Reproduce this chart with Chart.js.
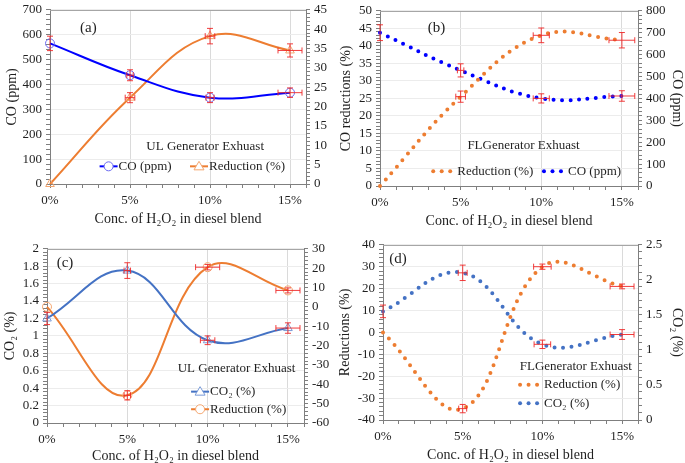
<!DOCTYPE html>
<html>
<head>
<meta charset="utf-8">
<script src="https://cdn.jsdelivr.net/npm/chart.js@4.4.1/dist/chart.umd.min.js"></script>
<style>
  html, body { margin: 0; padding: 0; background: #fff; width: 685px; height: 463px; overflow: hidden; }
  canvas { position: absolute; }
</style>
</head>
<body>
<canvas id="pa" width="340" height="230" style="left:0px;top:-2px"></canvas>
<canvas id="pb" width="347" height="231" style="left:338px;top:-1px"></canvas>
<canvas id="pc" width="340" height="228" style="left:0px;top:237px"></canvas>
<canvas id="pd" width="348" height="231" style="left:337px;top:233px"></canvas>
<script>
// H2O2 concentration in the blend (%)
const conc = [0, 5, 10, 15];
const concLabels = ['0%', '5%', '10%', '15%'];

// (a) UL generator - CO
const coUL = [565, 437, 347, 367];
const coUL_yErr = [29, 22, 20, 19];
const coUL_xErr = [0, 0.2, 0.25, 0.75];
const coRedUL = [0, 22.3, 38.2, 34.5];
const coRedUL_yErr = [0, 1.3, 2, 1.7];
const coRedUL_xErr = [0, 0.3, 0.3, 0.75];

// (b) FL generator - CO
const coFL = [700, 528, 400, 411];
const coFL_yErr = [36, 30, 21, 24];
const coFL_xErr = [0, 0.2, 0.5, 0.8];
const coRedFL = [0, 25.5, 43, 41.6];
const coRedFL_yErr = [0, 1.6, 2.1, 2.2];
const coRedFL_xErr = [0, 0.3, 0.5, 0.8];

// (c) UL generator - CO2
const co2UL = [1.2, 1.75, 0.95, 1.09];
const co2UL_yErr = [0.07, 0.09, 0.05, 0.06];
const co2UL_xErr = [0, 0.2, 0.45, 0.75];
const co2RedUL = [0, -45.7, 20.5, 8.5];
const co2RedUL_yErr = [0, 2.4, 1.4, 1.3];
const co2RedUL_xErr = [0, 0.2, 0.75, 0.75];

// (d) FL generator - CO2
const co2FL = [1.55, 2.1, 1.08, 1.22];
const co2FL_yErr = [0.09, 0.11, 0.06, 0.07];
const co2FL_xErr = [0, 0.28, 0.52, 0.75];
const co2RedFL = [0, -34.8, 30, 21];
const co2RedFL_yErr = [0, 1.9, 1.2, 1.1];
const co2RedFL_xErr = [0, 0.25, 0.55, 0.75];

const FONT = '"Liberation Serif", "DejaVu Serif", serif';
const TXT = '#1f1f1f';
const AXIS = '#7f7f7f';
const BLUE = '#0000FF';
const STEEL = '#4472C4';
const ORANGE = '#ED7D31';
const ERR = 'rgba(238, 40, 40, 0.9)';
const xTitle = 'Conc. of H\u2082O\u2082 in diesel blend';

const near = (v, step) => Math.abs(v / step - Math.round(v / step)) < 1e-6;
const pts = arr => conc.map((c, i) => ({ x: c, y: arr[i] }));

function xAxis(h) {
  return {
    type: 'linear', min: 0, max: 16,
    afterFit: s => { s.height = h; },
    ticks: {
      stepSize: 1, autoSkip: false, maxRotation: 0, padding: 5, color: TXT,
      font: { family: FONT, size: 13 },
      callback: v => { const i = conc.indexOf(v); return i >= 0 ? concLabels[i] : ''; }
    },
    grid: {
      color: c => (c.tick && c.tick.value > 0 && c.tick.value < 16 && near(c.tick.value, 5)) ? '#dadada' : 'rgba(0,0,0,0)',
      tickColor: AXIS, tickLength: 4
    },
    border: { color: AXIS },
    title: { display: true, text: xTitle, color: TXT, font: { family: FONT, size: 14 }, padding: 0 }
  };
}

function yAxis(pos, min, max, major, minor, width, title, pad) {
  return {
    type: 'linear', position: pos, min: min, max: max,
    afterFit: s => { s.width = width; },
    ticks: {
      stepSize: minor, autoSkip: false, padding: 4, color: TXT,
      font: { family: FONT, size: 13 },
      callback: v => near(v, major) ? String(+v.toFixed(3)) : ''
    },
    grid: {
      drawOnChartArea: pos === 'left',
      color: c => (c.tick && near(c.tick.value, major)) ? '#ececec' : 'rgba(0,0,0,0)',
      tickColor: AXIS, tickLength: 4
    },
    border: { color: AXIS },
    title: title ? { display: true, text: title, color: TXT, font: { family: FONT, size: 14 }, padding: { top: pad || 0, bottom: 0 } } : { display: false }
  };
}

function drawMarker(ctx, kind, x, y, color) {
  ctx.save();
  ctx.strokeStyle = color; ctx.lineWidth = 1;
  ctx.beginPath();
  if (kind === 'circle') {
    ctx.arc(x, y, 4.5, 0, Math.PI * 2);
  } else {
    ctx.moveTo(x, y - 5); ctx.lineTo(x + 5, y + 3.5); ctx.lineTo(x - 5, y + 3.5); ctx.closePath();
  }
  ctx.fillStyle = '#fff'; ctx.fill();
  ctx.stroke();
  ctx.restore();
}

// per-panel decorations: frame, error bars, labels, in-plot legend
function decor(spec) {
  return {
    id: 'decor',
    beforeDatasetsDraw(chart) {
      const { ctx, chartArea: a } = chart;
      ctx.save();
      ctx.strokeStyle = '#a6a6a6'; ctx.lineWidth = 1;
      ctx.beginPath(); ctx.moveTo(a.left, Math.round(a.top) + 0.5); ctx.lineTo(a.right, Math.round(a.top) + 0.5); ctx.stroke();
      ctx.restore();
    },
    afterDatasetsDraw(chart) {
      const ctx = chart.ctx, xs = chart.scales.x;
      ctx.save();
      ctx.strokeStyle = ERR; ctx.lineWidth = 1;
      chart.data.datasets.forEach(ds => {
        const ys = chart.scales[ds.yAxisID];
        ds.data.forEach((p, j) => {
          const px = xs.getPixelForValue(p.x), py = ys.getPixelForValue(p.y);
          const ey = ds.yErr[j], ex = ds.xErr[j];
          ctx.beginPath();
          if (ey > 0) {
            const t = ys.getPixelForValue(p.y + ey), b = ys.getPixelForValue(p.y - ey);
            ctx.moveTo(px, t); ctx.lineTo(px, b);
            ctx.moveTo(px - 3, t); ctx.lineTo(px + 3, t);
            ctx.moveTo(px - 3, b); ctx.lineTo(px + 3, b);
          }
          if (ex > 0) {
            const l = xs.getPixelForValue(p.x - ex), r = xs.getPixelForValue(p.x + ex);
            ctx.moveTo(l, py); ctx.lineTo(r, py);
            ctx.moveTo(l, py - 3); ctx.lineTo(l, py + 3);
            ctx.moveTo(r, py - 3); ctx.lineTo(r, py + 3);
          }
          ctx.stroke();
        });
      });
      ctx.restore();
    },
    afterDraw(chart) {
      const ctx = chart.ctx, xs = chart.scales.x, ys = chart.scales.y;
      ctx.save();
      ctx.fillStyle = TXT;
      ctx.textBaseline = 'middle';
      ctx.textAlign = 'center';
      ctx.font = '15px ' + FONT;
      ctx.fillText(spec.tag, xs.getPixelForValue(spec.tagAt[0]), ys.getPixelForValue(spec.tagAt[1]));
      ctx.font = '13px ' + FONT;
      ctx.fillText(spec.title, xs.getPixelForValue(spec.titleAt[0]), ys.getPixelForValue(spec.titleAt[1]));
      ctx.textAlign = 'left';
      spec.legend.forEach(e => {
        const px = xs.getPixelForValue(e.x), py = ys.getPixelForValue(e.y);
        if (e.kind === 'dots') {
          ctx.fillStyle = e.color;
          for (let k = 0; k < 3; k++) {
            ctx.beginPath(); ctx.arc(px + k * 8.5, py, 2, 0, Math.PI * 2); ctx.fill();
          }
          ctx.fillStyle = TXT;
          ctx.fillText(e.text, px + 24, py);
        } else {
          ctx.strokeStyle = e.color; ctx.lineWidth = 2;
          ctx.beginPath(); ctx.moveTo(px, py); ctx.lineTo(px + 18, py); ctx.stroke();
          drawMarker(ctx, e.marker, px + 9, py, e.markColor);
          ctx.fillStyle = TXT;
          ctx.fillText(e.text, px + 19, py);
        }
      });
      ctx.restore();
    }
  };
}

function solid(label, data, axis, color, marker, markColor, yErr, xErr) {
  return {
    label: label, data: pts(data), yAxisID: axis, borderColor: color, borderWidth: 2,
    tension: 0.4, clip: false,
    pointStyle: marker, pointRadius: marker === 'triangle' ? 5 : 4.5, pointBorderWidth: 1,
    pointBorderColor: markColor, pointBackgroundColor: 'rgba(255,255,255,0)',
    yErr: yErr, xErr: xErr
  };
}

function dotted(label, data, axis, color, yErr, xErr) {
  return {
    label: label, data: pts(data), yAxisID: axis, borderColor: color, borderWidth: 4,
    borderDash: [0, 8.5], borderCapStyle: 'round', tension: 0.4, clip: false,
    pointRadius: 0, yErr: yErr, xErr: xErr
  };
}

function panel(id, datasets, scales, spec) {
  new Chart(document.getElementById(id), {
    type: 'line',
    data: { datasets: datasets },
    options: {
      responsive: false, animation: false, devicePixelRatio: 1,
      layout: { padding: 0 },
      plugins: { legend: { display: false }, tooltip: { enabled: false } },
      scales: scales
    },
    plugins: [decor(spec)]
  });
}

// (a)
panel('pa', [
  solid('CO (ppm)', coUL, 'y', BLUE, 'circle', '#6a6af0', coUL_yErr, coUL_xErr),
  solid('Reduction (%)', coRedUL, 'y2', ORANGE, 'triangle', '#f4a66f', coRedUL_yErr, coRedUL_xErr)
], {
  x: xAxis(44),
  y: yAxis('left', 0, 700, 100, 20, 50, 'CO (ppm)', 4),
  y2: yAxis('right', 0, 45, 5, 1, 34, null)
}, {
  tag: '(a)', tagAt: [2.4, 625],
  title: 'UL Generator Exhuast', titleAt: [9.7, 149],
  legend: [
    { kind: 'line', x: 3.1, y: 71, text: 'CO (ppm)', color: BLUE, marker: 'circle', markColor: '#6a6af0' },
    { kind: 'line', x: 8.75, y: 71, text: 'Reduction (%)', color: ORANGE, marker: 'triangle', markColor: '#f4a66f' }
  ]
});

// (b)
panel('pb', [
  dotted('Reduction (%)', coRedFL, 'y', ORANGE, coRedFL_yErr, coRedFL_xErr),
  dotted('CO (ppm)', coFL, 'y2', BLUE, coFL_yErr, coFL_xErr)
], {
  x: xAxis(44),
  y: yAxis('left', 0, 50, 5, 1, 42, 'CO reductions (%)', 0),
  y2: yAxis('right', 0, 800, 100, 20, 47, 'CO (ppm)', 0)
}, {
  tag: '(b)', tagAt: [3.5, 45],
  title: 'FLGenerator Exhuast', titleAt: [8.9, 11.4],
  legend: [
    { kind: 'dots', x: 3.3, y: 4.2, text: 'Reduction (%)', color: ORANGE },
    { kind: 'dots', x: 10.17, y: 4.2, text: 'CO (ppm)', color: BLUE }
  ]
});

// (c)
panel('pc', [
  solid('CO\u2082 (%)', co2UL, 'y', STEEL, 'triangle', '#7a9bd8', co2UL_yErr, co2UL_xErr),
  solid('Reduction (%)', co2RedUL, 'y2', ORANGE, 'circle', '#f4a66f', co2RedUL_yErr, co2RedUL_xErr)
], {
  x: xAxis(42),
  y: yAxis('left', 0, 2, 0.2, 0.04, 47, 'CO\u2082 (%)', 2),
  y2: yAxis('right', -60, 30, 10, 2, 36, null)
}, {
  tag: '(c)', tagAt: [1.12, 1.84],
  title: 'UL Generator Exhuast', titleAt: [11.8, 0.62],
  legend: [
    { kind: 'line', x: 8.97, y: 0.36, text: 'CO\u2082 (%)', color: STEEL, marker: 'triangle', markColor: '#7a9bd8' },
    { kind: 'line', x: 8.97, y: 0.158, text: 'Reduction (%)', color: ORANGE, marker: 'circle', markColor: '#f4a66f' }
  ]
});

// (d)
panel('pd', [
  dotted('Reduction (%)', co2RedFL, 'y', ORANGE, co2RedFL_yErr, co2RedFL_xErr),
  dotted('CO\u2082 (%)', co2FL, 'y2', STEEL, co2FL_yErr, co2FL_xErr)
], {
  x: xAxis(44),
  y: yAxis('left', -40, 40, 10, 2, 46, 'Reductions (%)', 0),
  y2: yAxis('right', 0, 2.5, 0.5, 0.1, 47, 'CO\u2082 (%)', 0)
}, {
  tag: '(d)', tagAt: [0.94, 33.7],
  title: 'FLGenerator Exhuast', titleAt: [12.1, -15.4],
  legend: [
    { kind: 'dots', x: 8.6, y: -23.9, text: 'Reduction (%)', color: ORANGE },
    { kind: 'dots', x: 8.6, y: -32.4, text: 'CO\u2082 (%)', color: STEEL }
  ]
});
</script>
</body>
</html>
